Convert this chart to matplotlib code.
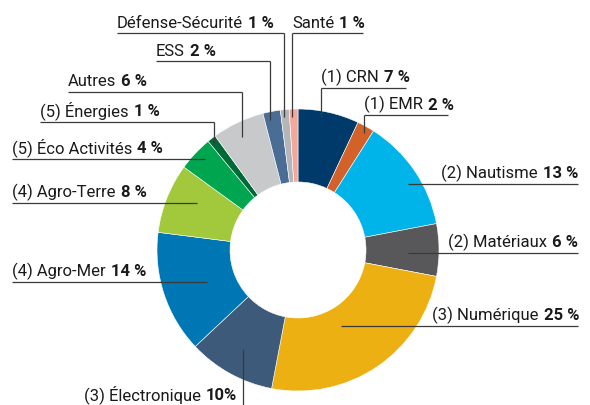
import matplotlib
matplotlib.use("Agg")
import matplotlib.pyplot as plt

plt.rcParams['font.family'] = ['Roboto', 'DejaVu Sans']

# data, clockwise from 12 o'clock
names = ['(1) CRN', '(1) EMR', '(2) Nautisme', '(2) Matériaux', '(3) Numérique',
         '(3) Électronique', '(4) Agro-Mer', '(4) Agro-Terre', '(5) Éco Activités',
         '(5) Énergies', 'Autres', 'ESS', 'Défense-Sécurité', 'Santé']
values = [7, 2, 13, 6, 25, 10, 14, 8, 4, 1, 6, 2, 1, 1]
pct_labels = ['7 %', '2 %', '13 %', '6 %', '25 %', '10%', '14 %', '8 %', '4 %',
              '1 %', '6 %', '2 %', '1 %', '1 %']
colors = ['#003a6a', '#d2622a', '#00b4ea', '#58585a', '#ecb013', '#3d5a7a',
          '#0077b5', '#a2c83b', '#00a550', '#006a36', '#c8c9cb', '#4a6d96',
          '#b3b5b8', '#f4a89a']

# layout in pixel coords (y down): text anchor x, underline y, side,
# underline span, leader end point (None = no vertical)
layout = {
    '(1) CRN':          (321, 89, 'left', (321, 406), (321, 118)),
    '(1) EMR':          (364, 116, 'left', (364, 448), (364, 134)),
    '(2) Nautisme':     (578, 185, 'right', (408, 578), None),
    '(2) Matériaux':    (578, 254, 'right', (408, 578), None),
    '(3) Numérique':    (579, 327, 'right', (341, 578), None),
    '(3) Électronique': (237, 407, 'right', None, None),
    '(4) Agro-Mer':     (12, 283, 'left', (12, 207), None),
    '(4) Agro-Terre':   (12, 204, 'left', (12, 197), None),
    '(5) Éco Activités': (12, 160, 'left', (12, 205), None),
    '(5) Énergies':     (40, 123, 'left', (40, 214), (214, 144)),
    'Autres':           (68, 93, 'left', (68, 242), (242, 138)),
    'ESS':              (156, 62, 'left', (156, 270), (270, 121)),
    'Défense-Sécurité': (117, 34, 'left', (117, 284), (284, 118)),
    'Santé':            (292, 34, 'left', (292, 363), (292, 118)),
}

W, H = 590, 406
cx, cy, R, r_in = 298, 251, 141, 68

fig = plt.figure(figsize=(W / 100, H / 100), dpi=100)
ax = fig.add_axes([0, 0, 1, 1])

ax.pie(values, colors=colors, center=(cx, cy), radius=R,
       startangle=-90, counterclock=True,
       wedgeprops=dict(width=R - r_in, edgecolor='white', linewidth=0.4))
ax.set_xlim(0, W)
ax.set_ylim(H, 0)
ax.set_aspect('equal')
ax.axis('off')

renderer = fig.canvas.get_renderer()
line_kw = dict(color='#3a3a3a', lw=0.9, solid_capstyle='butt')
txt_kw = dict(fontsize=12, color='#1a1a1a', va='baseline')
gap = 5  # px between name and percentage


def width_px(t):
    return t.get_window_extent(renderer).width


for name, pct in zip(names, pct_labels):
    x, uy, side, span, end = layout[name]
    by = uy - 6.5
    if name == '(3) Électronique':
        by = 400
    if side == 'left':
        t = ax.text(x, by, name, ha='left', **txt_kw)
        ax.text(x + width_px(t) + gap, by, pct, ha='left', fontweight='bold', **txt_kw)
    else:
        t = ax.text(x, by, pct, ha='right', fontweight='bold', **txt_kw)
        ax.text(x - width_px(t) - gap, by, name, ha='right', **txt_kw)
    if span is not None:
        ax.plot(span, [uy, uy], **line_kw)
    if end is not None:
        ax.plot([end[0], end[0]], [uy, end[1]], **line_kw)

# leader for Électronique goes down to the bottom edge
ax.plot([243, 243], [350, H], **line_kw)

fig.savefig('out.png', dpi=100)
